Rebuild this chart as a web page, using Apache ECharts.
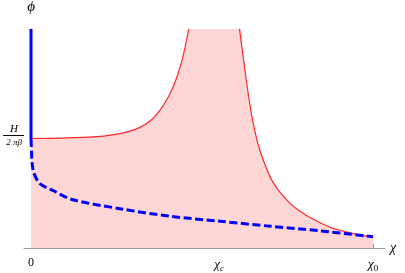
<!DOCTYPE html>
<html><head><meta charset="utf-8">
<script src="https://cdn.jsdelivr.net/npm/echarts@6/dist/echarts.min.js"></script>
<style>html,body{margin:0;padding:0;background:#fff}#c{width:405px;height:273px}</style>
</head><body><div id="c"></div>
<script>
// upper red curve, left branch (x in units of chi0, y in units of H/(2 pi beta))
const leftX = [0, 0.0848, 0.2018, 0.2602, 0.2895, 0.3187, 0.3480, 0.3684, 0.3860, 0.4064, 0.4211, 0.4386, 0.4503, 0.4591, 0.4611];
const leftY = [1.0, 1.0032, 1.0195, 1.0448, 1.0674, 1.1014, 1.1602, 1.2254, 1.2986, 1.4095, 1.5136, 1.6819, 1.8303, 1.9674, 2.0];
// upper red curve, right branch
const rightX = [0.6096, 0.6199, 0.6316, 0.6462, 0.6637, 0.6842, 0.7047, 0.7281, 0.7573, 0.7865, 0.8246, 0.8743, 0.9240, 0.9620, 1.0];
const rightY = [2.0, 1.756, 1.484, 1.195, 0.950, 0.760, 0.615, 0.507, 0.407, 0.335, 0.262, 0.190, 0.145, 0.118, 0.102];
// blue dashed curve
const blueX = [0, 0.0015, 0.003, 0.009, 0.026, 0.064, 0.120, 0.260, 0.406, 0.553, 0.699, 0.845, 1.0];
const blueY = [0.995, 0.887, 0.778, 0.679, 0.588, 0.525, 0.443, 0.359, 0.290, 0.244, 0.199, 0.157, 0.102];
// blue solid vertical segment
const solidX = [0, 0];
const solidY = [2.0, 0.995];
// x tick values and labels
const tickValues = [0, 0.55, 1];
const tickLabels = ['{n|0}', '{i|χ}{s|c}', '{i|χ}{u|0}'];
const yMax = 2;

const zip = (xs, ys) => xs.map((x, i) => [x, ys[i]]);
const leftPts = zip(leftX, leftY);
const rightPts = zip(rightX, rightY);
const fillPts = leftPts.concat(rightPts).map(p => [p[0], Math.min(p[1], yMax)]);

const chart = echarts.init(document.getElementById('c'), null, {renderer: 'canvas'});
const serif = 'Liberation Serif';
chart.setOption({
  backgroundColor: '#fff',
  animation: false,
  grid: {left: 24, right: 20, top: 27, bottom: 25},
  xAxis: {
    type: 'value', min: -0.0205, max: 1.035,
    name: 'χ', nameLocation: 'end', nameGap: 5,
    nameTextStyle: {fontFamily: serif, fontStyle: 'italic', fontSize: 14, color: '#000', align: 'left', verticalAlign: 'middle', padding: [8, 0, 0, 0]},
    axisLine: {lineStyle: {color: '#999', width: 1}},
    axisTick: {show: true, inside: true, length: 4, customValues: tickValues, lineStyle: {color: '#999'}},
    splitLine: {show: false},
    axisLabel: {
      customValues: tickValues, margin: 9,
      formatter: v => tickLabels[tickValues.indexOf(v)] || '',
      rich: {
        n: {fontFamily: serif, fontSize: 12, color: '#000'},
        i: {fontFamily: serif, fontStyle: 'italic', fontSize: 13, color: '#000'},
        s: {fontFamily: serif, fontStyle: 'italic', fontSize: 9, color: '#000', padding: [7, 0, 0, 0]},
        u: {fontFamily: serif, fontSize: 9, color: '#000', padding: [7, 0, 0, 0]}
      }
    }
  },
  yAxis: {
    type: 'value', min: 0, max: yMax,
    name: 'ϕ', nameLocation: 'end', nameGap: 14,
    nameTextStyle: {fontFamily: serif, fontStyle: 'italic', fontSize: 15, color: '#000', align: 'center'},
    axisLine: {show: true, onZero: true, lineStyle: {color: '#999', width: 1}},
    axisTick: {show: false},
    axisLabel: {show: false},
    splitLine: {show: false}
  },
  series: [
    {type: 'line', data: fillPts, showSymbol: false, lineStyle: {width: 0}, areaStyle: {color: 'rgb(255,214,214)', opacity: 1, origin: 'start'}, smooth: 0.25, z: 1},
    {type: 'line', data: leftPts, showSymbol: false, lineStyle: {color: '#ff2828', width: 1.2}, smooth: 0.25, z: 2},
    {type: 'line', data: rightPts, showSymbol: false, lineStyle: {color: '#ff2828', width: 1.2}, smooth: 0.25, z: 2},
    {type: 'line', data: zip(solidX, solidY), showSymbol: false, lineStyle: {color: '#0000ff', width: 3}, z: 3},
    {type: 'line', data: zip(blueX, blueY), showSymbol: false, lineStyle: {color: '#0000ff', width: 3, type: [8, 3.5]}, smooth: 0.3, z: 3}
  ]
});
// fraction label H / (2 pi beta) at the y value 1
const p = chart.convertToPixel({gridIndex: 0}, [0, 1]);
chart.setOption({
  graphic: [
    {type: 'text', x: p[0] - 17, y: p[1] - 9, style: {text: 'H', font: 'italic 11px "Liberation Serif"', fill: '#000', align: 'center', verticalAlign: 'middle'}},
    {type: 'line', shape: {x1: p[0] - 28, y1: p[1] - 3, x2: p[0] - 7, y2: p[1] - 3}, style: {stroke: '#000', lineWidth: 1}},
    {type: 'text', x: p[0] - 17, y: p[1] + 4.5, style: {text: '2 πβ', font: 'italic 9px "Liberation Serif"', fill: '#000', align: 'center', verticalAlign: 'middle'}}
  ]
});
</script></body></html>
